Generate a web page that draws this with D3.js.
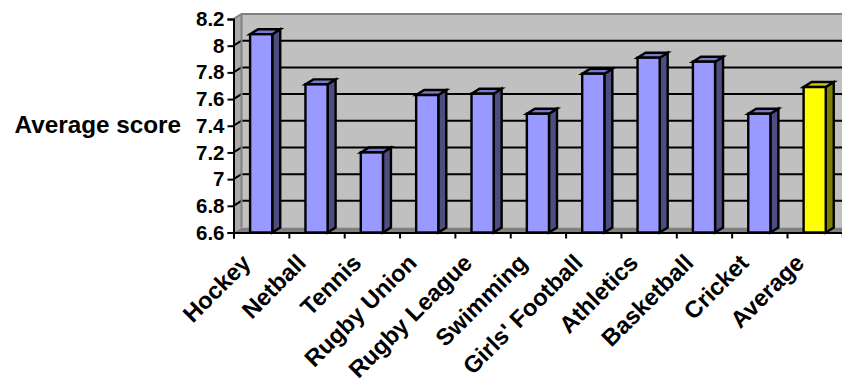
<!DOCTYPE html>
<html><head><meta charset="utf-8">
<script src="https://cdnjs.cloudflare.com/ajax/libs/d3/7.8.5/d3.min.js"></script>
<style>html,body{margin:0;padding:0;background:#fff}svg{display:block}
text{font-family:"Liberation Sans",Arial,sans-serif;font-weight:bold;fill:#000}</style>
</head><body><svg id="c" width="842" height="384"></svg>
<script>
const categories=["Hockey","Netball","Tennis","Rugby Union","Rugby League","Swimming","Girls' Football","Athletics","Basketball","Cricket","Average"];
const scores=[8.086,7.71,7.2,7.63,7.64,7.49,7.79,7.91,7.88,7.49,7.69];
const yTicks=[6.6,6.8,7,7.2,7.4,7.6,7.8,8,8.2];
const yDomain=[6.6,8.2];
const yTitle="Average score";
const svg=d3.select("#c");
const L=233.5,R=842,B=232.5,T=19,dx=8,dy=5;
const x=d3.scaleBand().domain(categories).range([L,L+55.35*categories.length]).paddingInner(0.6).paddingOuter(0.3);
const xb=d3.scaleBand().domain(categories).range([L,L+55.35*categories.length]);
const y=d3.scaleLinear().domain(yDomain).range([B,T]);
const poly=(p,f,s,w)=>svg.append("polygon").attr("points",p.map(a=>a.join(",")).join(" ")).attr("fill",f).attr("stroke",s||"none").attr("stroke-width",w||0);
poly([[L+dx,T-dy],[R+2,T-dy],[R+2,B-dy],[L+dx,B-dy]],"#c0c0c0");
poly([[L,T],[L+dx,T-dy],[L+dx,B-dy],[L,B]],"#a9a9a9");
poly([[L,B],[L+dx,B-dy],[R+2,B-dy],[R+2,B]],"#808080");
yTicks.slice(1,-1).forEach(t=>{
  svg.append("path").attr("d",`M${L},${y(t)}L${L+dx},${y(t)-dy}H${R+2}`).attr("fill","none").attr("stroke","#000").attr("stroke-width",2);
});
svg.append("path").attr("d",`M${L},${T}L${L+dx},${T-dy}H${R+2}`).attr("fill","none").attr("stroke","#808080").attr("stroke-width",2);
svg.append("path").attr("d",`M${L+dx},${T-dy}V${B-dy}`).attr("fill","none").attr("stroke","#808080").attr("stroke-width",2);
const g=svg.append("g").attr("stroke","#000").attr("stroke-width",2.4).attr("stroke-linejoin","miter");
categories.forEach((c,i)=>{
  const a=x(c),w=x.bandwidth(),t=y(scores[i]);
  const avg=c==="Average";
  const front=avg?"#ffff00":"#9999ff",top=avg?"#cccc00":"#7a7acc",side=avg?"#808000":"#4d4d80";
  g.append("polygon").attr("points",[[a+w,B],[a+w+dx,B-dy],[a+w+dx,t-dy],[a+w,t]].join(" ")).attr("fill",side);
  g.append("polygon").attr("points",[[a,t],[a+dx,t-dy],[a+w+dx,t-dy],[a+w,t]].join(" ")).attr("fill",top);
  g.append("rect").attr("x",a).attr("y",t).attr("width",w).attr("height",B-t).attr("fill",front);
});
const ay=svg.append("g").attr("transform",`translate(${L},0)`).call(d3.axisLeft(y).tickValues(yTicks).tickFormat(d3.format("~g")).tickSize(6).tickPadding(3));
ay.selectAll("path,line").attr("stroke","#000").attr("stroke-width",2);
ay.selectAll("text").style("font-size","20.5px").attr("font-family",null);
const edges=xb.domain().map(c=>xb(c)).concat([L+55.35*categories.length]);
const xs=d3.scaleLinear().domain([L,L+55.35*categories.length]).range([L,L+55.35*categories.length]);
const ax=svg.append("g").attr("transform",`translate(0,${B})`).call(d3.axisBottom(xs).tickValues(edges.filter(e=>e<=R)).tickFormat("").tickSize(6));
ax.selectAll("path,line").attr("stroke","#000").attr("stroke-width",2);
svg.selectAll(".cat").data(categories).join("text").attr("class","cat")
  .attr("transform",c=>`translate(${xb(c)+xb.bandwidth()/2-15},${B+26}) rotate(-45)`)
  .attr("text-anchor","end").attr("dy","0.35em").style("font-size","23.6px").text(c=>c);
svg.append("text").attr("x",14.5).attr("y",133).style("font-size","24.3px").text(yTitle);
</script></body></html>
